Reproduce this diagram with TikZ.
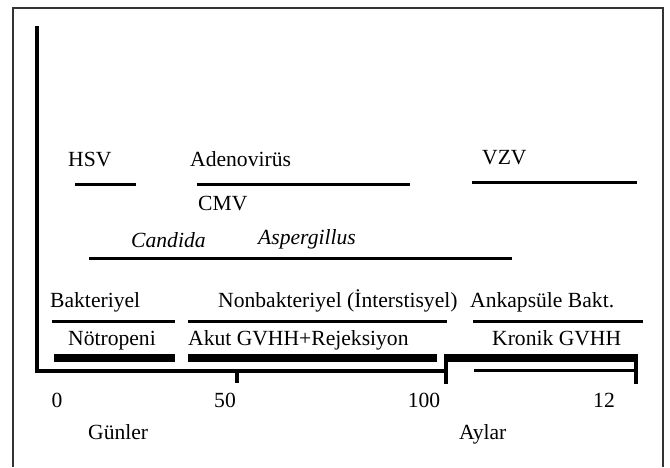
\documentclass[tikz,border=0pt]{standalone}
\usepackage{fontspec}
\setmainfont{Liberation Serif}
\begin{document}
\begin{tikzpicture}[x=1pt,y=-1pt,
	lbl/.style={anchor=base west,inner sep=0pt,font=\fontsize{21.6}{24}\selectfont},
	num/.style={anchor=base,inner sep=0pt,font=\fontsize{21.6}{24}\selectfont},
	thinbar/.style={line width=3pt},
	thickbar/.style={line width=8pt}]
	\useasboundingbox (0,0) rectangle (670,467);
	\draw[line width=1.4pt,black!80] (13,467) to (13,8) to (663,8) to (663,467);
	% axes and ticks
	\draw[line width=3.5pt] (37,26) to (37,371) to (447,371);
	\draw[line width=3.5pt] (237,371) to (237,383);
	\draw[line width=3.5pt] (446,354) to (446,384);
	\draw[line width=3.5pt] (636,354) to (636,384);
	\draw[thinbar] (474,370) to (636,370);
	% virus row
	\node[lbl] (hsv) at (68,166) {HSV};
	\node[lbl] (adeno) at (190,166) {Adenovirüs};
	\node[lbl] (vzv) at (482,164) {VZV};
	\draw[thinbar] (75,184) to (136,184);
	\draw[thinbar] (197,184) to (410,184);
	\draw[thinbar] (472,182) to (637,182);
	\node[lbl] (cmv) at (198,210) {CMV};
	% fungus row
	\node[lbl,font=\fontsize{21.6}{24}\selectfont\itshape] (candida) at (131,247) {Candida};
	\node[lbl,font=\fontsize{21.6}{24}\selectfont\itshape] (asper) at (258,244) {Aspergillus};
	\draw[thinbar] (89,258) to (512,258);
	% bacteria row
	\node[lbl] (bakt) at (50,307) {Bakteriyel};
	\node[lbl] (nonbakt) at (218,307) {Nonbakteriyel (İnterstisyel)};
	\node[lbl] (ankaps) at (470,307) {Ankapsüle Bakt.};
	\foreach \xa/\xb in {52/175,188/447,473/643} \draw[thinbar] (\xa,321) to (\xb,321);
	% phases
	\node[lbl] (notro) at (68,345) {Nötropeni};
	\node[lbl] (akut) at (188,345) {Akut GVHH+Rejeksiyon};
	\node[lbl] (kronik) at (492,345) {Kronik GVHH};
	\foreach \xa/\xb in {54/175,188/437,446/636} \draw[thickbar] (\xa,358) to (\xb,358);
	% scale
	\node[num] (t0) at (57,407) {0};
	\node[num] (t50) at (225,407) {50};
	\node[num] (t100) at (424,407) {100};
	\node[num] (t12) at (604,407) {12};
	\node[lbl] (gun) at (88,439) {Günler};
	\node[lbl] (ay) at (459,439) {Aylar};
\end{tikzpicture}
\end{document}
